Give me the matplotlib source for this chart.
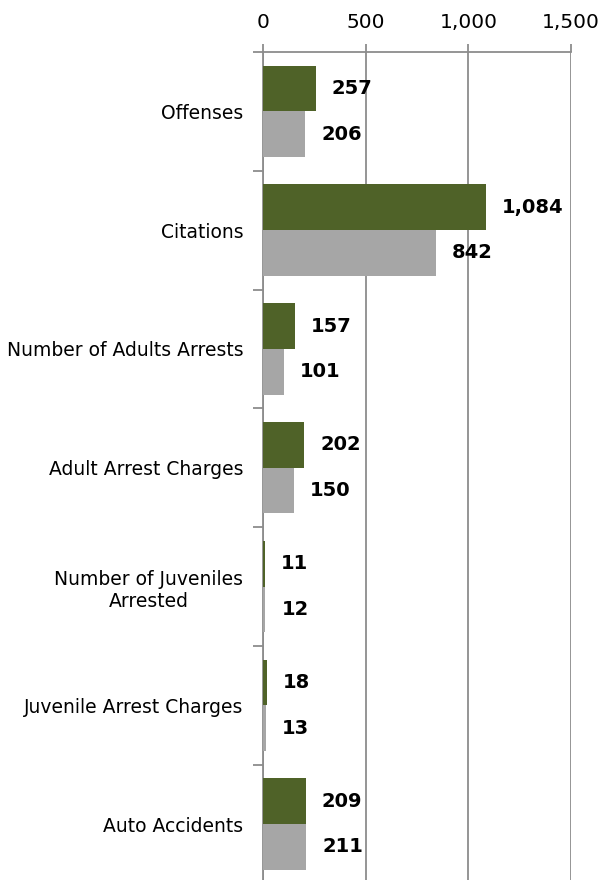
import numpy as np
import matplotlib.pyplot as plt
from matplotlib.ticker import FuncFormatter, FixedLocator

categories = ['Offenses', 'Citations', 'Number of Adults Arrests', 'Adult Arrest Charges',
              'Number of Juveniles\nArrested', 'Juvenile Arrest Charges', 'Auto Accidents']
green_vals = [257, 1084, 157, 202, 11, 18, 209]
gray_vals = [206, 842, 101, 150, 12, 13, 211]

green = '#4F6228'
gray = '#A6A6A6'
grid_c = '#8C8C8C'

fig = plt.figure(figsize=(6.03, 8.8), dpi=100)
ax = fig.add_axes([0.436, -0.004, 0.511, 0.945])

y = np.arange(len(categories))
h = 0.385
ax.barh(y - h / 2, green_vals, height=h, color=green, zorder=3)
ax.barh(y + h / 2, gray_vals, height=h, color=gray, zorder=3)

for yy, v in zip(y - h / 2, green_vals):
    ax.annotate(f'{v:,}', (v, yy), xytext=(16, 0), textcoords='offset pixels',
                va='center', ha='left', fontsize=14, fontweight='bold', zorder=4)
for yy, v in zip(y + h / 2, gray_vals):
    ax.annotate(f'{v:,}', (v, yy), xytext=(16, 0), textcoords='offset pixels',
                va='center', ha='left', fontsize=14, fontweight='bold', zorder=4)

ax.set_xlim(0, 1500)
ax.set_ylim(len(categories) - 0.5, -0.5)
ax.xaxis.set_major_locator(FixedLocator([0, 500, 1000, 1500]))
ax.xaxis.set_major_formatter(FuncFormatter(lambda x, p: f'{int(x):,}'))
ax.xaxis.tick_top()
ax.tick_params(axis='x', labelsize=14.5, length=6, width=1.3, color=grid_c, pad=8)
ax.grid(axis='x', color=grid_c, linewidth=1.3, zorder=0)

ax.set_yticks(y)
ax.set_yticklabels(categories, fontsize=13.5, ha='right', multialignment='center')
ax.yaxis.set_minor_locator(FixedLocator(np.arange(-0.5, len(categories), 1)))
ax.tick_params(axis='y', which='major', length=0, pad=14)
ax.tick_params(axis='y', which='minor', length=7, width=1.3, color=grid_c)

for s in ['right', 'bottom']:
    ax.spines[s].set_visible(False)
for s in ['left', 'top']:
    ax.spines[s].set_color(grid_c)
    ax.spines[s].set_linewidth(1.3)

plt.savefig('out.png', dpi=100)
plt.close('all')
